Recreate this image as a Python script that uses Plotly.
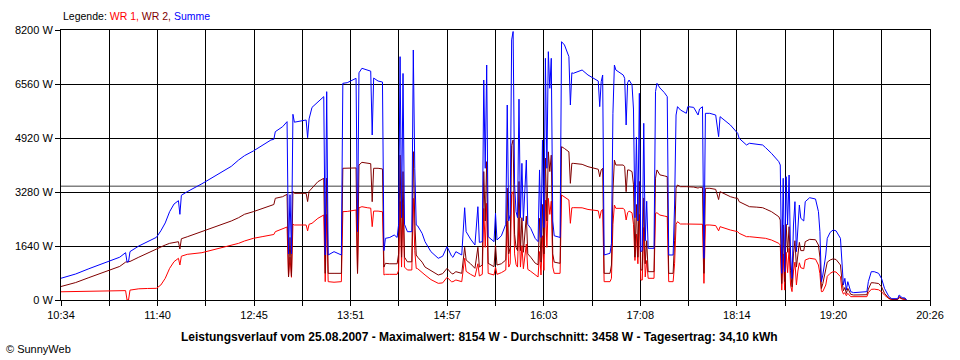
import plotly.graph_objects as go
from datetime import datetime

DAY = "2007-08-25"

TIMES = [
    "10:34", "10:44", "10:53", "11:06", "11:14", "11:18", "11:19", "11:20", "11:21", "11:27",
    "11:33", "11:39", "11:42", "11:45", "11:48", "11:51", "11:54", "11:55", "11:56", "12:00",
    "12:10", "12:20", "12:30", "12:35", "12:39", "12:45", "12:51", "12:57", "12:59", "13:00",
    "13:05", "13:08", "13:09", "13:10", "13:11", "13:12", "13:13", "13:21", "13:22", "13:23",
    "13:25", "13:29", "13:33", "13:34", "13:35", "13:36", "13:40", "13:45", "13:46", "13:49",
    "13:55", "13:56", "13:57", "13:59", "14:03", "14:05", "14:06", "14:07", "14:10", "14:13",
    "14:14", "14:15", "14:18", "14:21", "14:23", "14:24", "14:25", "14:26", "14:27", "14:28",
    "14:30", "14:33", "14:34", "14:35", "14:36", "14:37", "14:40", "14:42", "14:46", "14:51",
    "14:54", "14:57", "15:00", "15:01", "15:03", "15:07", "15:09", "15:10", "15:13", "15:16",
    "15:18", "15:19", "15:21", "15:22", "15:23", "15:24", "15:25", "15:29", "15:30", "15:31",
    "15:34", "15:37", "15:38", "15:39", "15:40", "15:41", "15:42", "15:43", "15:44", "15:45",
    "15:46", "15:47", "15:48", "15:49", "15:51", "15:52", "15:54", "15:57", "15:59", "16:00",
    "16:01", "16:02", "16:03", "16:04", "16:05", "16:06", "16:07", "16:08", "16:09", "16:10",
    "16:14", "16:15", "16:17", "16:20", "16:21", "16:22", "16:23", "16:29", "16:33", "16:37",
    "16:38", "16:40", "16:41", "16:42", "16:43", "16:44", "16:48", "16:49", "16:50", "16:51",
    "16:52", "16:57", "16:58", "16:59", "17:00", "17:01", "17:03", "17:04", "17:05", "17:06",
    "17:07", "17:08", "17:09", "17:10", "17:11", "17:12", "17:13", "17:14", "17:18", "17:19",
    "17:20", "17:22", "17:25", "17:27", "17:28", "17:31", "17:32", "17:33", "17:34", "17:36",
    "17:40", "17:41", "17:45", "17:48", "17:49", "17:51", "17:52", "17:53", "17:56", "18:00",
    "18:02", "18:03", "18:10", "18:13", "18:15", "18:16", "18:21", "18:23", "18:28", "18:32",
    "18:34", "18:38", "18:43", "18:44", "18:45", "18:46", "18:47", "18:48", "18:49", "18:50",
    "18:51", "18:52", "18:53", "18:54", "18:55", "18:56", "18:57", "18:58", "19:00", "19:01",
    "19:04", "19:08", "19:10", "19:11", "19:12", "19:13", "19:15", "19:16", "19:18", "19:20",
    "19:22", "19:25", "19:26", "19:27", "19:28", "19:29", "19:30", "19:32", "19:34", "19:42",
    "19:43", "19:44", "19:46", "19:48", "19:51", "19:53", "19:55", "19:58", "20:00", "20:04",
    "20:05", "20:07", "20:09", "20:10",
]

WR1 = [
    250, 255, 265, 270, 275, 285, 0, 0, 300, 340,
    350, 354, 455, 658, 962, 1164, 1266, 1063, 1330, 1387,
    1437, 1549, 1670, 1721, 1792, 1873, 1923, 1974, 1990, 2075,
    2176, 2217, 700, 1300, 690, 2300, 2278, 2278, 2100, 2300,
    2329, 2480, 2581, 557, 2600, 557, 540, 557, 2683, 2690,
    2733, 810, 2800, 2834, 2800, 2790, 2227, 2700, 2700, 2680,
    760, 780, 780, 780, 780, 900, 2990, 1000, 2900, 1000,
    911, 911, 3088, 1500, 962, 950, 850, 760, 620, 506,
    520, 689, 557, 557, 608, 557, 1266, 870, 780, 709,
    1100, 730, 780, 2780, 1600, 2936, 810, 759, 1000, 780,
    830, 911, 2400, 1000, 1100, 3200, 3290, 1400, 1080, 1000,
    2500, 1000, 1650, 950, 1700, 930, 870, 750, 700, 1470,
    760, 1950, 900, 3030, 1600, 3088, 2600, 3000, 1000, 810,
    810, 3189, 3138, 3037, 2329, 2800, 2804, 2800, 2750, 2733,
    2720, 2710, 2480, 2700, 2750, 557, 557, 658, 2300, 2885,
    2784, 2784, 2733, 2430, 2650, 2700, 2650, 2300, 1200, 2000,
    1100, 2600, 607, 607, 2200, 700, 1200, 659, 659, 2633,
    2650, 2580, 2550, 2530, 557, 557, 1100, 2300, 2379, 2308,
    2308, 2308, 2300, 2290, 2300, 2300, 506, 2278, 2278, 2260,
    2100, 2227, 2126, 2100, 2075, 2025, 1923, 1923, 1910, 1892,
    1873, 1822, 1721, 1670, 300, 1400, 300, 1450, 830, 1570,
    456, 254, 880, 1150, 456, 880, 1130, 980, 950, 1215,
    1266, 1240, 1063, 800, 253, 260, 456, 720, 810, 860,
    850, 708, 300, 180, 220, 130, 203, 101, 101, 101,
    101, 220, 324, 330, 310, 250, 150, 40, 15, 15,
    71, 30, 25, 0,
]

WR2 = [
    410, 530, 680, 880, 1020, 1150, 1150, 1160, 1170, 1300,
    1430, 1549, 1620, 1670, 1721, 1741, 1771, 1549, 1860, 1920,
    2075, 2227, 2399, 2500, 2603, 2683, 2780, 2885, 2900, 3088,
    3138, 3209, 700, 1900, 720, 3300, 3240, 3240, 2990, 3300,
    3392, 3593, 3696, 810, 3700, 810, 810, 810, 4000, 4000,
    4010, 810, 4100, 4181, 4150, 4140, 2985, 4000, 4000, 3980,
    1000, 1114, 1100, 1094, 1100, 1400, 4400, 1300, 3900, 1300,
    1160, 1160, 4505, 2400, 1367, 1300, 1150, 1000, 900, 759,
    800, 962, 810, 790, 860, 810, 1600, 1215, 1100, 962,
    1600, 1000, 1063, 3900, 2400, 4201, 1114, 1012, 1670, 1063,
    1100, 1215, 3400, 1400, 1600, 4700, 4859, 2000, 1600, 1500,
    3600, 1500, 2500, 1450, 2550, 1400, 1300, 1120, 1070, 2480,
    1150, 2900, 1400, 4310, 2400, 4500, 3900, 4400, 1400, 1150,
    1114, 4657, 4600, 4500, 3543, 4150, 4150, 4120, 4049, 4000,
    3990, 3970, 3745, 3950, 4000, 810, 810, 1063, 3300, 4252,
    4100, 4100, 4049, 3290, 3950, 3948, 3900, 3500, 1300, 2900,
    1300, 3600, 911, 911, 3100, 1100, 1800, 860, 860, 3700,
    3950, 3800, 3770, 3745, 810, 810, 1800, 3400, 3492, 3442,
    3442, 3442, 3430, 3400, 3420, 3420, 810, 3392, 3392, 3360,
    3050, 3290, 3138, 3100, 3088, 2986, 2885, 2834, 2820, 2803,
    2764, 2683, 2530, 2430, 500, 2278, 560, 2300, 1450, 2227,
    900, 400, 1400, 1800, 1000, 1400, 1750, 1500, 1500, 1771,
    1842, 1830, 1670, 1300, 350, 500, 900, 1150, 1215, 1250,
    1230, 1063, 600, 280, 380, 200, 354, 172, 152, 152,
    160, 330, 526, 520, 500, 400, 203, 51, 20, 20,
    101, 40, 35, 0,
]

SUMME = [
    660, 790, 950, 1160, 1300, 1437, 1150, 1160, 1470, 1640,
    1780, 1903, 2100, 2340, 2683, 2915, 3017, 2602, 3180, 3290,
    3530, 3800, 4059, 4252, 4383, 4525, 4680, 4859, 4880, 5112,
    5264, 5416, 1400, 3200, 1400, 5640, 5400, 5467, 4930, 5500,
    5850, 6004, 6176, 1367, 6327, 1367, 1468, 1367, 6580, 6600,
    6733, 2075, 6900, 7037, 6985, 6950, 5011, 6740, 6650, 6620,
    1500, 1873, 1900, 1974, 1900, 2300, 7390, 2500, 6880, 2300,
    2075, 2075, 7593, 4000, 2278, 2250, 2025, 1771, 1468, 1266,
    1330, 1620, 1340, 1296, 1468, 1367, 2803, 2075, 1850, 1670,
    2834, 1750, 1772, 6681, 4000, 7137, 1923, 1772, 2633, 1823,
    1950, 2300, 5922, 2400, 2600, 7900, 8154, 3500, 2683, 2500,
    6100, 2500, 4150, 2400, 4250, 2300, 2176, 1873, 1772, 3950,
    1900, 4860, 2200, 7340, 4000, 7542, 6429, 7340, 2400, 1950,
    1900, 7845, 7745, 7390, 5922, 6900, 6884, 6985, 6833, 6733,
    6700, 6650, 5872, 6631, 6833, 1367, 1418, 1721, 5669, 7137,
    6985, 6833, 6733, 5315, 6600, 6681, 6530, 5800, 2500, 4950,
    2400, 6277, 1468, 1500, 5366, 1800, 3000, 1570, 1570, 6327,
    6580, 6440, 6300, 6176, 1367, 1367, 2885, 5618, 5872, 5770,
    5670, 5872, 5850, 5618, 5800, 5870, 1266, 5669, 5669, 5618,
    4960, 5568, 5315, 5163, 5062, 4910, 4707, 4760, 4740, 4707,
    4627, 4454, 4201, 4100, 810, 3696, 860, 3745, 2278, 3796,
    1367, 658, 2278, 2986, 1468, 2278, 2885, 2480, 2400, 2986,
    3107, 3067, 2683, 2075, 557, 759, 1367, 1873, 2055, 2126,
    2100, 1873, 1063, 456, 658, 304, 557, 253, 223, 230,
    253, 557, 860, 860, 810, 650, 354, 101, 40, 40,
    152, 71, 60, 0,
]

X_LABELS = ["10:34", "11:40", "12:45", "13:51", "14:57", "16:03", "17:08", "18:14", "19:20", "20:26"]
Y_TICKS = [0, 1640, 3280, 4920, 6560, 8200]
Y_LABELS = ["0 W", "1640 W", "3280 W", "4920 W", "6560 W", "8200 W"]
AVERAGE_W = 3458
TITLE = ("Leistungsverlauf vom 25.08.2007 - Maximalwert: 8154 W - "
         "Durchschnitt: 3458 W - Tagesertrag: 34,10 kWh")

FONT = "Liberation Sans, Arial, sans-serif"

x = [f"{DAY} {t}" for t in TIMES]
start = datetime(2007, 8, 25, 10, 34)
end = datetime(2007, 8, 25, 20, 26)
step = (end - start) / (len(X_LABELS) - 1)
major = [start + i * step for i in range(len(X_LABELS))]
minor = [start + (i + 0.5) * step for i in range(len(X_LABELS) - 1)]

fig = go.Figure()
fig.add_trace(go.Scatter(x=x, y=WR1, mode="lines", name="WR 1",
                         line=dict(color="#FF0000", width=1)))
fig.add_trace(go.Scatter(x=x, y=WR2, mode="lines", name="WR 2",
                         line=dict(color="#800000", width=1)))
fig.add_trace(go.Scatter(x=x, y=SUMME, mode="lines", name="Summe",
                         line=dict(color="#0000FF", width=1)))

fig.add_shape(type="line", xref="paper", x0=0, x1=1, yref="y",
              y0=AVERAGE_W, y1=AVERAGE_W, layer="between",
              line=dict(color="#808080", width=1.5))

fig.update_layout(
    width=960, height=360,
    margin=dict(l=61, r=30, t=30, b=60),
    paper_bgcolor="white", plot_bgcolor="white",
    showlegend=False,
    font=dict(family=FONT, size=11, color="black"),
    xaxis=dict(
        type="date",
        range=[start, end],
        tickmode="array", tickvals=major, ticktext=X_LABELS,
        ticks="outside", ticklen=5, tickcolor="black", tickwidth=1,
        showgrid=True, gridcolor="black", gridwidth=1,
        showline=True, linecolor="black", linewidth=1, mirror=True,
        zeroline=False,
        minor=dict(tickmode="array", tickvals=minor, ticks="outside",
                   ticklen=5, tickcolor="black", tickwidth=1,
                   showgrid=True, gridcolor="black", gridwidth=1),
        tickfont=dict(family=FONT, size=11, color="black"),
    ),
    yaxis=dict(
        range=[0, 8200],
        tickmode="array", tickvals=Y_TICKS, ticktext=Y_LABELS,
        ticks="outside", ticklen=5, tickcolor="black", tickwidth=1,
        showgrid=True, gridcolor="black", gridwidth=1,
        showline=True, linecolor="black", linewidth=1, mirror=True,
        zeroline=False,
        tickfont=dict(family=FONT, size=11, color="black"),
    ),
)

fig.add_annotation(
    xref="paper", yref="paper", x=0, y=1 + 14 / 270, xanchor="left", yanchor="middle",
    showarrow=False, font=dict(family=FONT, size=10.5, color="black"),
    text=("Legende: <span style='color:#FF0000'>WR 1,</span> "
          "<span style='color:#800000'>WR 2,</span> "
          "<span style='color:#0000FF'>Summe</span>"),
)
fig.add_annotation(
    xref="paper", yref="paper", x=(479.5 - 61) / 869, y=-(337 - 300) / 270,
    xanchor="center", yanchor="middle", showarrow=False,
    font=dict(family=FONT, size=12, color="black"),
    text=f"<b>{TITLE}</b>",
)
fig.add_annotation(
    xref="paper", yref="paper", x=(4 - 61) / 869, y=-(349 - 300) / 270,
    xanchor="left", yanchor="middle", showarrow=False,
    font=dict(family=FONT, size=11, color="black"),
    text="© SunnyWeb",
)

fig.write_html("out.html", config={"displayModeBar": False},
               post_script="document.body.style.margin='0';")
